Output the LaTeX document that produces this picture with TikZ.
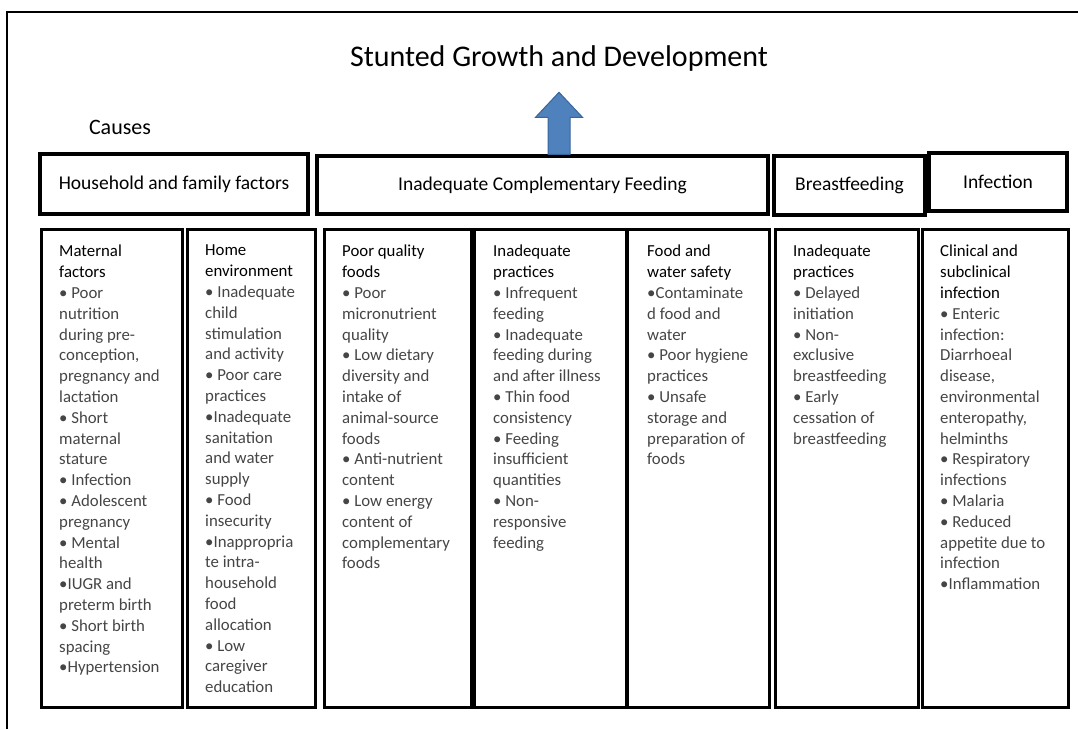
\documentclass[tikz,border=0pt]{standalone}
\usepackage{fontspec}
\setmainfont{Carlito}
\usepackage{tikz}
\usetikzlibrary{positioning}
\definecolor{Ink}{HTML}{000000}
\definecolor{Body}{HTML}{454545}
\definecolor{ArrowBlue}{HTML}{4F81BD}
\definecolor{ArrowEdge}{HTML}{38659A}
\newcommand{\colhead}[1]{\textcolor{Ink}{#1}}

\begin{document}
\begin{tikzpicture}[
  x=1pt,y=-1pt,
  frame/.style={line width=2pt,draw=Ink},
  headbox/.style={draw=Ink,line width=3.4pt,inner sep=0pt,font=\fontsize{19.5}{23}\selectfont},
  colbox/.style={draw=Ink,line width=3.4pt,anchor=north west,inner sep=0pt,minimum height=478pt},
  list/.style={anchor=north west,inner sep=0pt,align=left,text=Body,font=\fontsize{16.8}{20.8}\selectfont},
  uparrow/.style={fill=ArrowBlue,draw=ArrowEdge,line width=1pt}
]
\useasboundingbox (0,0) rectangle (1078,729);
\draw[frame] (7,729) -- (7,12) -- (1078,12);

\node[font=\fontsize{30}{35}\selectfont] (title) at (559,58) {Stunted Growth and Development};
\node[font=\fontsize{22}{26}\selectfont] (causes) at (120,127) {Causes};

\node[headbox,minimum width=268pt,minimum height=60pt] (hh) at (174,184) {Household and family factors};
\node[headbox,minimum width=451pt,minimum height=58pt] (icf) at (542.5,185) {Inadequate Complementary Feeding};
\node[headbox,minimum width=151pt,minimum height=59pt] (bf) at (849.5,185.5) {Breastfeeding};
\node[headbox,minimum width=138pt,minimum height=58pt] (inf) at (998,182) {Infection};

\coordinate (base) at (title.south |- icf.north);
\draw[uparrow] ([xshift=-11pt]base) -- ++(0,-37) -- ++(-12.5,0) -- ([yshift=62pt]base)
  -- ([xshift=23.5pt,yshift=37pt]base) -- ++(-12.5,0) -- ([xshift=11pt]base) -- cycle;

\node[colbox,minimum width=141pt] (mat) at (40,228) {};
\node[colbox,minimum width=128pt] (home) at (186,228) {};
\node[colbox,minimum width=147pt] (poor) at (323,228) {};
\node[colbox,minimum width=152pt] (prac) at (473,228) {};
\node[colbox,minimum width=142pt] (safe) at (626,228) {};
\node[colbox,minimum width=143pt] (bfp) at (774,228) {};
\node[colbox,minimum width=146pt] (clin) at (921,228) {};

\node[list] (matT) at ([xshift=19pt,yshift=-17pt]mat.north west) {\colhead{Maternal}\\\colhead{factors}\\• Poor\\nutrition\\during pre-\\conception,\\pregnancy and\\lactation\\• Short\\maternal\\stature\\• Infection\\• Adolescent\\pregnancy\\• Mental\\health\\•IUGR and\\preterm birth\\• Short birth\\spacing\\•Hypertension};
\node[list] (homeT) at ([xshift=19pt,yshift=-17pt]home.north west) {\colhead{Home}\\\colhead{environment}\\• Inadequate\\child\\stimulation\\and activity\\• Poor care\\practices\\•Inadequate\\sanitation\\and water\\supply\\• Food\\insecurity\\•Inappropria\\te intra-\\household\\food\\allocation\\• Low\\caregiver\\education};
\node[list] (poorT) at ([xshift=19pt,yshift=-17pt]poor.north west) {\colhead{Poor quality}\\\colhead{foods}\\• Poor\\micronutrient\\quality\\• Low dietary\\diversity and\\intake of\\animal-source\\foods\\• Anti-nutrient\\content\\• Low energy\\content of\\complementary\\foods};
\node[list] (pracT) at ([xshift=20pt,yshift=-17pt]prac.north west) {\colhead{Inadequate}\\\colhead{practices}\\• Infrequent\\feeding\\• Inadequate\\feeding during\\and after illness\\• Thin food\\consistency\\• Feeding\\insufficient\\quantities\\• Non-\\responsive\\feeding};
\node[list] (safeT) at ([xshift=21pt,yshift=-17pt]safe.north west) {\colhead{Food and}\\\colhead{water safety}\\•Contaminate\\d food and\\water\\• Poor hygiene\\practices\\• Unsafe\\storage and\\preparation of\\foods};
\node[list] (bfpT) at ([xshift=19pt,yshift=-17pt]bfp.north west) {\colhead{Inadequate}\\\colhead{practices}\\• Delayed\\initiation\\• Non-\\exclusive\\breastfeeding\\• Early\\cessation of\\breastfeeding};
\node[list] (clinT) at ([xshift=19pt,yshift=-17pt]clin.north west) {\colhead{Clinical and}\\\colhead{subclinical}\\\colhead{infection}\\• Enteric\\infection:\\Diarrhoeal\\disease,\\environmental\\enteropathy,\\helminths\\• Respiratory\\infections\\• Malaria\\• Reduced\\appetite due to\\infection\\•Inflammation};
\end{tikzpicture}
\end{document}
